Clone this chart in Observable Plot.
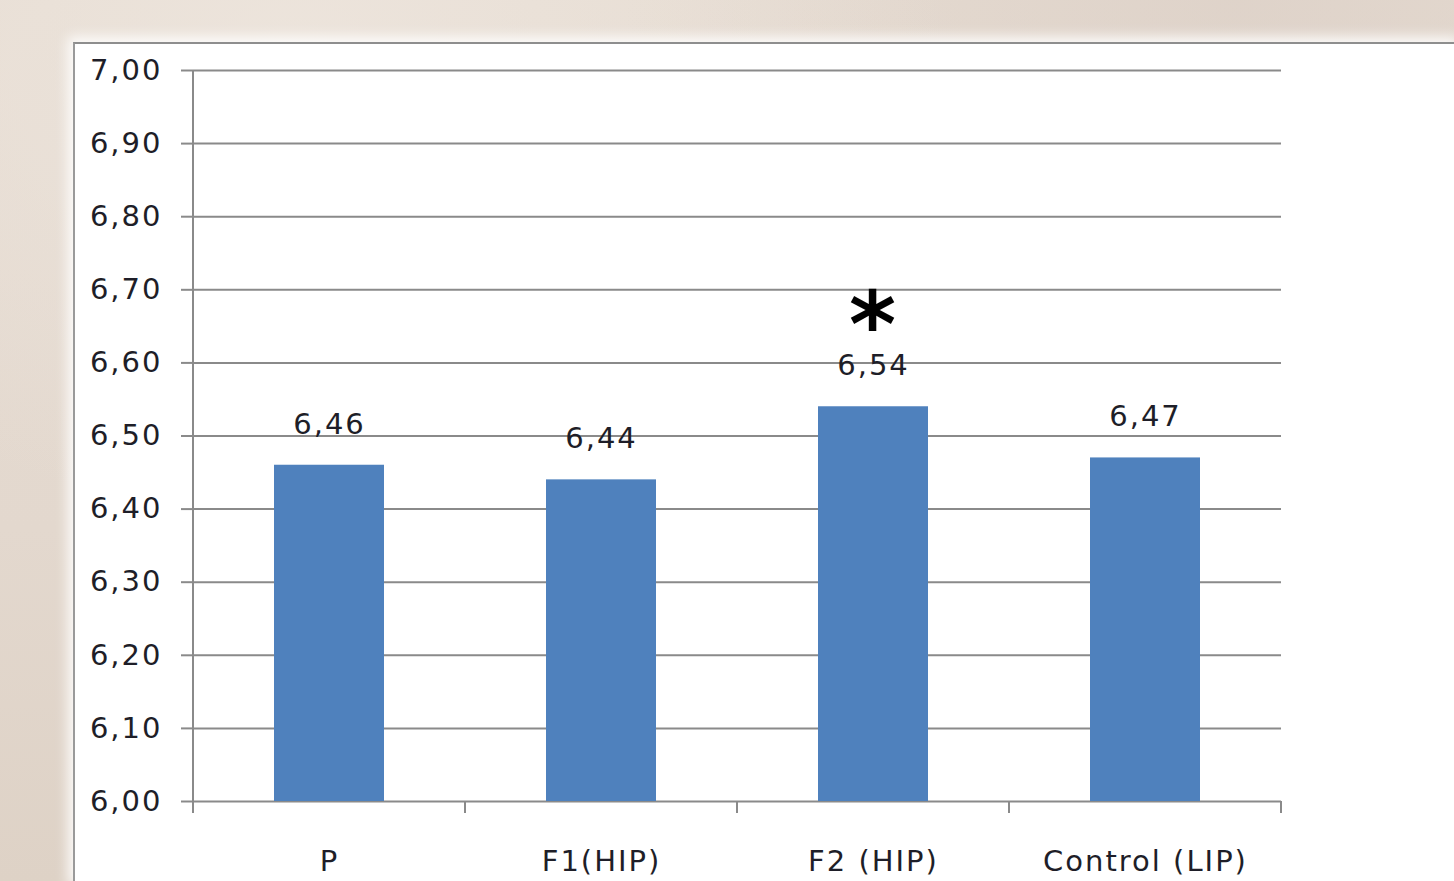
<!DOCTYPE html>
<html>
<head>
<meta charset="utf-8">
<script src="https://cdn.jsdelivr.net/npm/d3@7"></script>
<script src="https://cdn.jsdelivr.net/npm/@observablehq/plot@0.6"></script>
<style>
  html, body { margin: 0; padding: 0; width: 1454px; height: 881px; overflow: hidden; }
  body {
    background:
      radial-gradient(ellipse at 20% 5%, rgba(238,230,222,0.8), rgba(238,230,222,0) 40%),
      radial-gradient(ellipse at 85% 0%, rgba(218,205,196,0.6), rgba(218,205,196,0) 35%),
      linear-gradient(180deg, #e6dcd2 0%, #e3d8ce 60%, #ded2c6 100%);
    position: relative;
  }
  #panel {
    position: absolute; left: 73px; top: 42px; right: -10px; bottom: -10px;
    background: #ffffff;
    border-left: 2px solid #9a9a9a; border-top: 2px solid #8e8e8e;
    box-shadow: -5px -5px 12px rgba(255,255,255,0.9);
  }
  #chart { position: absolute; left: 0; top: 0; }
</style>
</head>
<body>
<div id="panel"></div>
<div id="chart"></div>
<script>
// ---- data ----
const categories = ["P", "F1(HIP)", "F2 (HIP)", "Control (LIP)"];
const values = [6.46, 6.44, 6.54, 6.47];
const significance = ["", "", "*", ""];
const yTicks = [6.0, 6.1, 6.2, 6.3, 6.4, 6.5, 6.6, 6.7, 6.8, 6.9, 7.0];
const yDomain = [6, 7];

const fmt = d => d.toFixed(2).replace(".", ",");
const rows = categories.map((c, i) => ({cat: c, value: values[i], label: fmt(values[i]), sig: significance[i]}));

const gridColor = "#8a8a8a";
const textColor = "#1e1e28";

// boundary ticks on the category axis and the vertical value axis line
function axisFrame(index, scales, values, dimensions) {
  const {marginLeft, marginRight, marginTop, marginBottom, width, height} = dimensions;
  const n = categories.length;
  const step = (width - marginLeft - marginRight) / n;
  const yb = height - marginBottom;
  const g = d3.create("svg:g").attr("stroke", gridColor).attr("stroke-width", 2);
  g.append("line").attr("x1", marginLeft).attr("x2", marginLeft).attr("y1", marginTop).attr("y2", yb + 12);
  for (let i = 1; i <= n; i++) {
    const x = marginLeft + i * step;
    g.append("line").attr("x1", x).attr("x2", x).attr("y1", yb).attr("y2", yb + 12);
  }
  return g.node();
}

const chart = Plot.plot({
  width: 1454,
  height: 881,
  marginLeft: 193,
  marginRight: 173,
  marginTop: 70,
  marginBottom: 80,
  style: {background: "transparent", fontFamily: "'DejaVu Sans', sans-serif", fontSize: "29px", color: textColor, letterSpacing: "2px"},
  x: {domain: categories, paddingInner: 0.596, paddingOuter: 0.298, label: null},
  y: {domain: yDomain, label: null},
  marks: [
    Plot.ruleY(yTicks, {stroke: gridColor, strokeWidth: 2}),
    Plot.barY(rows, {x: "cat", y1: yDomain[0], y2: "value", fill: "#4f81bd"}),
    Plot.axisY(yTicks, {tickSize: 12, tickPadding: 19, tickFormat: fmt, stroke: gridColor, strokeWidth: 2, fill: textColor, label: null}),
    Plot.axisX({tickSize: 0, tickPadding: 49, fill: textColor, label: null}),
    Plot.text(rows, {x: "cat", y: "value", text: "label", dy: -41, fill: textColor}),
    Plot.text(rows, {x: "cat", y: "value", text: "sig", dy: -80, fontSize: 90, fontWeight: "bold", fill: "#000", fontFamily: "'DejaVu Sans', sans-serif", letterSpacing: "0px"}),
    axisFrame
  ]
});
document.getElementById("chart").appendChild(chart);
</script>
</body>
</html>
